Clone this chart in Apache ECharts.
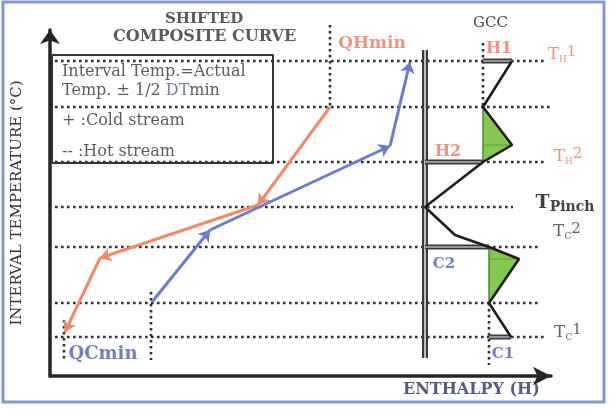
<!DOCTYPE html>
<html><head><meta charset="utf-8">
<script src="https://cdn.jsdelivr.net/npm/echarts@6/dist/echarts.min.js"></script>
<style>html,body{margin:0;padding:0;background:#fff}#c{width:611px;height:409px}</style>
</head><body><div id="c"></div>
<script>
// ---- temperature interval levels (shifted temperature, arbitrary units) ----
const levelNames = ['TH1', 'L2', 'TH2', 'TPinch', 'TC2', 'L6', 'TC1'];
const levelTemps = [315, 269, 214, 169, 129, 73, 39];
const levelEnds  = [495, 500, 495, 463, 490, 490, 495];

// ---- shifted composite curves (enthalpy, temperature) ----
const hotH  = [280, 208, 50, 15];
const hotT  = [269, 171, 118, 44];
const coldH = [102, 160, 340, 360];
const coldT = [74, 146, 230, 314];

// ---- grand composite curve ----
const gccH = [462, 433, 462, 433, 375, 405, 439, 469, 439, 461];
const gccT = [315, 269, 231, 214, 169, 141, 129, 117, 73, 39];
const gccAxisH = 375;
const gccAxisT = [326, 18];

// ---- utilities on the GCC ----
const utilNames = ['H1', 'H2', 'C2', 'C1'];
const utilT     = [315, 214, 129, 39];
const utilFrom  = [433, 375, 375, 439];
const utilTo    = [462, 433, 439, 461];

// ---- heat pockets (green) ----
const pocketH = [[433, 462, 433], [439, 469, 439]];
const pocketT = [[269, 231, 214], [129, 117, 73]];

// ---- vertical guide lines (QHmin, QCmin, GCC) ----
const guideH  = [280, 14, 101, 433, 439];
const guideT0 = [351, 56, 84, 333, 73];
const guideT1 = [269, 16, 16, 269, 11];

// ---- annotations ----
const annText = ['QHmin', 'QCmin', 'H1', 'H2', 'C2', 'C1'];
const annH    = [322, 53, 449, 398, 394, 453];
const annT    = [332, 22, 327, 224, 112, 22];
const tagNames = ['TH1', 'TH2', 'TPinch', 'TC2', 'TC1'];
const tagH     = [512, 518, 515, 517, 518];
const tagT     = [321, 219, 173, 144, 43];
const legendLines = ['Interval Temp.=Actual', 'Temp. \u00b1 1/2 {b|DT}min', '+ :Cold stream', '-- :Hot stream'];
const legendT = [304, 285, 255, 224];
const legendH = 12;
const legendBox = [[2, 321], [223, 321], [223, 213], [2, 213]];

const SERIF = 'DejaVu Serif';
const SALMON = '#e27c63', BLUEG = '#4f5fab', DARK = '#3a3a3a';

const dotted = {color: '#2e2e2e', width: 2.6, type: [2.6, 3.4], cap: 'butt'};
function path(pts, lineStyle, z) {
  return {type: 'line', data: pts, symbol: 'none', lineStyle: lineStyle, silent: true,
          animation: false, clip: false, z: z || 2};
}
function segs(H, T) {
  const out = [];
  for (let i = 0; i < H.length - 1; i++) out.push({coords: [[H[i], T[i]], [H[i + 1], T[i + 1]]]});
  return out;
}

const series = [];
levelTemps.forEach((t, i) => series.push(path([[5, t], [levelEnds[i], t]], dotted, 1)));
guideH.forEach((h, i) => series.push(path([[h, guideT0[i]], [h, guideT1[i]]], dotted, 1)));
series.push(path(legendBox.concat([legendBox[0]]), {color: '#333', width: 2}, 3));
// GCC temperature axis (double line)
series.push(path([[gccAxisH, gccAxisT[0]], [gccAxisH, gccAxisT[1]]], {color: '#3a3a3a', width: 6}, 3));
series.push(path([[gccAxisH, gccAxisT[0]], [gccAxisH, gccAxisT[1]]], {color: '#bdbdbd', width: 2}, 3));
// utility bars
utilT.forEach((t, i) => {
  series.push(path([[utilFrom[i], t], [utilTo[i], t]], {color: '#3a3a3a', width: 5}, 4));
  series.push(path([[utilFrom[i], t], [utilTo[i], t]], {color: '#b5b5b5', width: 1.5}, 4));
});
// pockets
series.push({
  type: 'custom', animation: false, silent: true, z: 4, clip: false,
  data: pocketH.map((h, i) => [h[0], pocketT[i][0]]),
  renderItem: function (params, api) {
    const i = params.dataIndex;
    const pts = pocketH[i].map((h, k) => api.coord([h, pocketT[i][k]]));
    const mid = [pts[0][0], pts[1][1]];
    return {type: 'group', children: [
      {type: 'polygon', shape: {points: pts}, style: {fill: '#85c84f', stroke: '#4b8a30', lineWidth: 1.5}},
      {type: 'line', shape: {x1: mid[0], y1: mid[1], x2: pts[1][0], y2: pts[1][1]}, style: {stroke: '#5c9c3c', lineWidth: 1}}
    ]};
  }
});
// GCC curve
series.push(path(gccH.map((h, i) => [h, gccT[i]]), {color: '#1e1e1e', width: 2.6}, 5));
// composite curves with arrows
series.push({type: 'lines', coordinateSystem: 'cartesian2d', data: segs(hotH, hotT), z: 6,
  symbol: ['none', 'arrow'], symbolSize: 11, silent: true, animation: false,
  lineStyle: {color: '#ef8b6c', width: 3, opacity: 1}});
series.push({type: 'lines', coordinateSystem: 'cartesian2d', data: segs(coldH, coldT), z: 6,
  symbol: ['none', 'arrow'], symbolSize: 11, silent: true, animation: false,
  lineStyle: {color: '#6c7bd0', width: 3, opacity: 1}});

// labels
const annColor = [SALMON, BLUEG, SALMON, SALMON, BLUEG, BLUEG];
const annSize = [17, 18, 16, 16, 15, 15];
const tagColor = [SALMON, SALMON, '#111', DARK, DARK];
const tagFmt = {TH1: '{t|T}{s|H}{n|1}', TH2: '{t|T}{s|H}{n|2}', TPinch: '{t|T}{p|Pinch}',
                TC2: '{t|T}{s|C}{n|2}', TC1: '{t|T}{s|C}{n|1}'};
const labelData = [];
annText.forEach((s, i) => labelData.push({value: [annH[i], annT[i]],
  label: {formatter: s, color: annColor[i], fontSize: annSize[i], fontWeight: 'bold', fontFamily: SERIF, position: 'inside'}}));
tagNames.forEach((s, i) => labelData.push({value: [tagH[i], tagT[i]],
  label: {formatter: tagFmt[s], color: tagColor[i], position: 'inside', fontFamily: SERIF,
    rich: {
      t: {fontSize: s === 'TPinch' ? 19 : 17, fontFamily: SERIF, fontWeight: s === 'TPinch' ? 'bold' : 'normal', color: tagColor[i], lineHeight: 22, verticalAlign: 'middle'},
      s: {fontSize: 9, fontFamily: SERIF, color: tagColor[i], lineHeight: 22, verticalAlign: 'bottom', padding: [0, 0, 2, 0]},
      n: {fontSize: 15, fontFamily: SERIF, color: tagColor[i], lineHeight: 22, verticalAlign: 'top', padding: [1, 0, 0, 0]},
      p: {fontSize: 14, fontFamily: SERIF, fontWeight: 'bold', color: tagColor[i], lineHeight: 22, verticalAlign: 'bottom', padding: [0, 0, 0, 0]}
    }}}));
legendLines.forEach((s, i) => labelData.push({value: [legendH, legendT[i]],
  label: {formatter: s, color: '#333', fontSize: 16, fontFamily: SERIF, position: 'right', distance: 0,
    rich: {b: {color: '#4c5aa0', fontSize: 16, fontFamily: SERIF}}}}));
series.push({type: 'scatter', data: labelData, symbolSize: 0, silent: true, animation: false, clip: false, z: 8,
  label: {show: true}});

const chart = echarts.init(document.getElementById('c'), null, {renderer: 'canvas'});
chart.setOption({
  backgroundColor: '#ffffff',
  animation: false,
  grid: {left: 50, right: 60, top: 30, bottom: 33, containLabel: false, outerBoundsMode: 'none'},
  xAxis: {type: 'value', min: 0, max: 501, splitLine: {show: false}, axisTick: {show: false}, axisLabel: {show: false},
    axisLine: {show: true, symbol: ['none', 'arrow'], symbolSize: [14, 18], lineStyle: {color: '#262626', width: 3.5}}},
  yAxis: {type: 'value', min: 0, max: 346, splitLine: {show: false}, axisTick: {show: false}, axisLabel: {show: false},
    axisLine: {show: true, symbol: ['none', 'arrow'], symbolSize: [15, 14], lineStyle: {color: '#262626', width: 3.5}},
    name: 'INTERVAL TEMPERATURE (\u00b0C)', nameLocation: 'middle', nameRotate: 90, nameGap: 25,
    nameTextStyle: {fontFamily: SERIF, fontSize: 15, color: '#333'}},
  graphic: [
    {type: 'rect', shape: {x: 3, y: 2, width: 601, height: 400}, style: {fill: 'none', stroke: '#8797d6', lineWidth: 3}, z: 100},
    {type: 'text', left: 165, top: 12, style: {text: 'SHIFTED', font: 'bold 15px "DejaVu Serif"', fill: '#5a5a5a'}},
    {type: 'text', left: 113, top: 29, style: {text: 'COMPOSITE CURVE', font: 'bold 16px "DejaVu Serif"', fill: '#5a5a5a'}},
    {type: 'text', left: 473, top: 16, style: {text: 'GCC', font: '15px "DejaVu Serif"', fill: '#444'}},
    {type: 'text', left: 403, top: 382, style: {text: 'ENTHALPY (H)', font: 'bold 16px "DejaVu Serif"', fill: '#555b85'}}
  ],
  series: series
});
</script>
</body></html>
